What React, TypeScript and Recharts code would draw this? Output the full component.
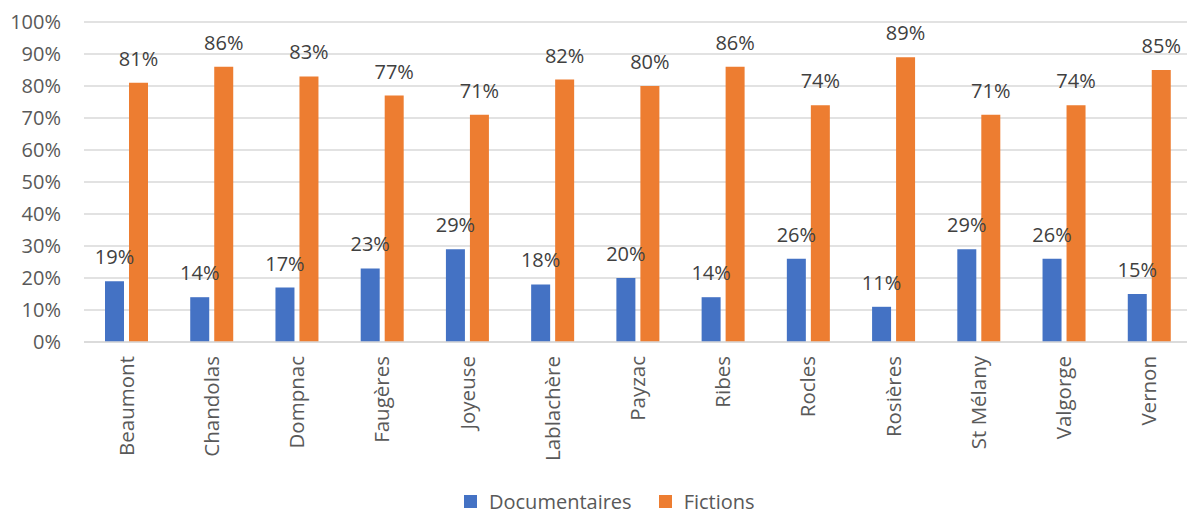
import { Bar, BarChart, CartesianGrid, LabelList, Legend, XAxis, YAxis } from "recharts";

const communes = [
  "Beaumont",
  "Chandolas",
  "Dompnac",
  "Faugères",
  "Joyeuse",
  "Lablachère",
  "Payzac",
  "Ribes",
  "Rocles",
  "Rosières",
  "St Mélany",
  "Valgorge",
  "Vernon",
];
const documentaires = [19, 14, 17, 23, 29, 18, 20, 14, 26, 11, 29, 26, 15];
const fictions = [81, 86, 83, 77, 71, 82, 80, 86, 74, 89, 71, 74, 85];
const yTicks = [0, 10, 20, 30, 40, 50, 60, 70, 80, 90, 100];

const BLUE = "#4472C4";
const ORANGE = "#ED7D31";
const FONT = "'Open Sans', sans-serif";

const data = communes.map((name, i) => ({
  name,
  documentaires: documentaires[i],
  fictions: fictions[i],
}));

function CommuneTick({ x, y, payload }: { x?: number; y?: number; payload?: { value: string } }) {
  const tx = (x ?? 0) + 7;
  const ty = (y ?? 0) + 14;
  return (
    <text
      x={tx}
      y={ty}
      transform={`rotate(-90, ${tx}, ${ty})`}
      textAnchor="end"
      fill="#595959"
      fontSize={20.5}
      fontFamily={FONT}
    >
      {payload?.value}
    </text>
  );
}

function ChartLegend() {
  const items = [
    { label: "Documentaires", color: BLUE },
    { label: "Fictions", color: ORANGE },
  ];
  return (
    <div
      style={{
        height: 30,
        display: "flex",
        alignItems: "center",
        paddingLeft: 464,
        paddingTop: 5,
        boxSizing: "border-box",
        fontFamily: FONT,
        fontSize: 20,
        color: "#595959",
      }}
    >
      {items.map((it) => (
        <div key={it.label} style={{ display: "flex", alignItems: "center", marginRight: 27 }}>
          <span style={{ width: 13, height: 13, background: it.color, marginRight: 12 }} />
          <span>{it.label}</span>
        </div>
      ))}
    </div>
  );
}

export default function App() {
  return (
    <div style={{ position: "absolute", left: 0, top: 0, width: 1187, height: 514, background: "#fff" }}>
      <BarChart
        width={1187}
        height={514}
        data={data}
        margin={{ top: 22, right: -5, bottom: 0, left: 0 }}
        barSize={19}
        barGap={5}
      >
        <CartesianGrid vertical={false} stroke="#d9d9d9" strokeWidth={1.3} />
        <XAxis
          dataKey="name"
          interval={0}
          height={142}
          tickSize={0}
          tickMargin={0}
          axisLine={{ stroke: "#d9d9d9", strokeWidth: 1.3 }}
          tickLine={false}
          tick={<CommuneTick />}
        />
        <YAxis
          domain={[0, 100]}
          ticks={yTicks}
          width={84}
          tickSize={0}
          tickMargin={23}
          axisLine={false}
          tickLine={false}
          tickFormatter={(v) => `${v}%`}
          tick={{ fill: "#595959", fontSize: 20, fontFamily: FONT }}
        />
        <Legend verticalAlign="bottom" content={<ChartLegend />} />
        <Bar dataKey="documentaires" name="Documentaires" fill={BLUE} isAnimationActive={false}>
          <LabelList
            dataKey="documentaires"
            position="top"
            offset={17}
            formatter={(v: number) => `${v}%`}
            fill="#404040"
            fontSize={20}
            fontFamily={FONT}
          />
        </Bar>
        <Bar dataKey="fictions" name="Fictions" fill={ORANGE} isAnimationActive={false}>
          <LabelList
            dataKey="fictions"
            position="top"
            offset={17}
            formatter={(v: number) => `${v}%`}
            fill="#404040"
            fontSize={20}
            fontFamily={FONT}
          />
        </Bar>
      </BarChart>
    </div>
  );
}
